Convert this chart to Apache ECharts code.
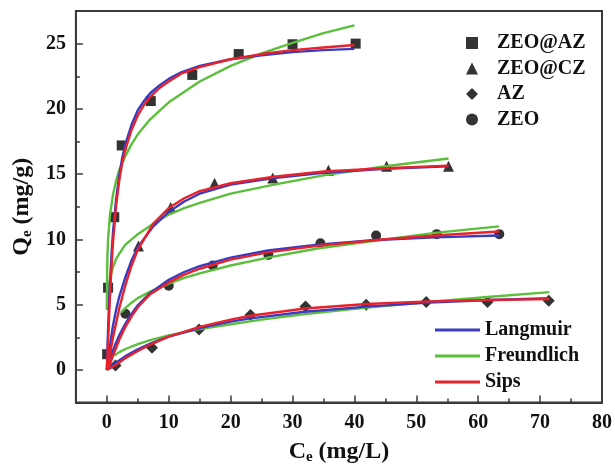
<!DOCTYPE html>
<html><head><meta charset="utf-8">
<script src="https://cdn.jsdelivr.net/npm/echarts@6/dist/echarts.min.js"></script>
<style>html,body{margin:0;padding:0;background:#fff}#c{width:615px;height:473px}</style>
</head><body><div id="c"></div>
<script>
// ---- tick labels ----
const xMajor = [0, 10, 20, 30, 40, 50, 60, 70, 80];
const xMinor = [5, 15, 25, 35, 45, 55, 65, 75];
const yMajor = [0, 5, 10, 15, 20, 25];
const yMinor = [2.5, 7.5, 12.5, 17.5, 22.5];

// ---- experimental points [Ce, Qe] ----
const zeoAzPts = [[0.2, 6.3], [0.05, 1.2], [1.2, 11.7], [2.4, 17.2], [7.1, 20.6], [13.8, 22.6], [21.3, 24.2], [30.0, 24.95], [40.2, 25.0]];
const zeoCzPts = [[5.1, 9.5], [10.3, 12.45], [17.4, 14.3], [26.8, 14.7], [35.8, 15.3], [45.2, 15.6], [55.2, 15.6]];
const azPts = [[1.4, 0.33], [7.3, 1.7], [14.9, 3.1], [23.2, 4.2], [32.1, 4.85], [41.9, 5.0], [51.6, 5.2], [61.5, 5.2], [71.4, 5.3]];
const zeoPts = [[3.0, 4.3], [10.0, 6.45], [17.1, 8.0], [26.1, 8.8], [34.5, 9.7], [43.5, 10.3], [53.3, 10.4], [63.4, 10.4]];

// ---- fitted curves ----
const zeoAzLangmuir = [[0, 0], [0.1, 1.7], [0.25, 3.8], [0.5, 6.7], [0.75, 8.8], [1, 10.6], [1.5, 13.1], [2, 14.9], [2.5, 16.3], [3, 17.3], [4, 18.8], [5, 19.9], [6, 20.6], [7, 21.2], [8.5, 21.8], [10, 22.3], [12, 22.8], [15, 23.3], [20, 23.8], [25, 24.1], [30, 24.35], [35, 24.5], [40, 24.6]];
const zeoAzFreundlich = [[0.003, 4.6], [0.01, 5.8], [0.05, 7.8], [0.1, 8.8], [0.2, 10.0], [0.5, 11.85], [1, 13.45], [1.5, 14.5], [2, 15.3], [3, 16.4], [4, 17.3], [5, 18.05], [7, 19.2], [10, 20.5], [15, 22.1], [20, 23.3], [25, 24.25], [30, 25.05], [35, 25.8], [40, 26.4]];
const zeoAzSips = [[0, 0], [0.1, 1.0], [0.25, 2.8], [0.5, 5.6], [0.75, 7.9], [1, 9.8], [1.5, 12.6], [2, 14.5], [2.5, 15.9], [3, 16.9], [4, 18.4], [5, 19.5], [6, 20.3], [7, 20.9], [8.5, 21.6], [10, 22.1], [12, 22.7], [15, 23.2], [20, 23.8], [25, 24.2], [30, 24.5], [35, 24.7], [40, 24.9]];

const zeoCzLangmuir = [[0, 0], [0.5, 1.9], [1, 3.4], [1.5, 4.6], [2, 5.6], [3, 7.1], [4, 8.4], [5, 9.4], [7.5, 11.0], [10, 12.1], [12.5, 12.9], [15, 13.5], [20, 14.2], [27, 14.7], [35, 15.1], [45, 15.4], [55.2, 15.6]];
const zeoCzFreundlich = [[0.05, 4.6], [0.2, 5.9], [0.5, 7.0], [1, 7.9], [1.5, 8.5], [2, 8.9], [3, 9.6], [4, 10.0], [5, 10.4], [7.5, 11.2], [10, 11.9], [12.5, 12.4], [15, 12.8], [20, 13.5], [27, 14.2], [35, 14.9], [45, 15.6], [55.2, 16.2]];
const zeoCzSips = [[0, 0], [0.5, 1.2], [1, 2.5], [1.5, 3.6], [2, 4.7], [3, 6.5], [4, 8.0], [5, 9.2], [7.5, 11.2], [10, 12.4], [12.5, 13.15], [15, 13.7], [20, 14.3], [27, 14.8], [35, 15.2], [45, 15.45], [55.2, 15.65]];

const zeoLangmuir = [[0, 0], [0.5, 0.8], [1, 1.5], [1.5, 2.1], [2, 2.65], [3, 3.55], [4, 4.3], [5, 4.95], [7, 5.9], [10, 6.9], [12.5, 7.5], [15, 7.95], [20, 8.6], [26, 9.15], [34, 9.6], [43.5, 9.95], [53, 10.15], [63.35, 10.3]];
const zeoFreundlich = [[2.3, 4.4], [3, 4.75], [4, 5.15], [5, 5.5], [7, 6.0], [10, 6.6], [12.5, 7.05], [15, 7.4], [20, 8.0], [26, 8.6], [34, 9.3], [43.5, 9.9], [53, 10.5], [63.35, 11.0]];
const zeoSips = [[0, 0], [0.5, 0.45], [1, 1.1], [1.5, 1.7], [2, 2.3], [3, 3.3], [4, 4.1], [5, 4.8], [7, 5.8], [10, 6.7], [12.5, 7.3], [15, 7.75], [20, 8.45], [26, 9.0], [34, 9.5], [43.5, 9.95], [53, 10.3], [63.35, 10.6]];

const azLangmuir = [[0, 0], [1.4, 0.53], [3, 1.05], [5, 1.57], [7.3, 2.07], [10, 2.55], [15, 3.2], [20, 3.7], [23.2, 3.95], [32, 4.45], [42, 4.85], [52, 5.15], [62, 5.35], [71.5, 5.5]];
const azFreundlich = [[1.2, 1.1], [2, 1.36], [3, 1.6], [5, 1.98], [7, 2.28], [10, 2.64], [15, 3.12], [20, 3.5], [25, 3.85], [32, 4.27], [42, 4.77], [52, 5.2], [62, 5.6], [71.5, 5.96]];
const azSips = [[0, 0], [1.4, 0.35], [3, 0.9], [5, 1.45], [7.3, 2.0], [10, 2.55], [15, 3.3], [20, 3.85], [23.2, 4.15], [32, 4.7], [42, 5.05], [52, 5.25], [62, 5.35], [71.5, 5.42]];

const FONT = 'Liberation Serif';
const AX = '#3a3a3a';
const BLUE = '#3b3bc0', GREEN = '#5cbf3c', RED = '#e8212b';

function fit(name, color, data, z) {
  return {
    type: 'line', name: name, data: data, color: color,
    showSymbol: false, symbol: 'none', smooth: false,
    lineStyle: { color: color, width: 2.4, join: 'round' }, z: z, silent: true
  };
}
function pts(name, symbol, size, data) {
  return { type: 'scatter', name: name, data: data, symbol: symbol, symbolSize: size,
    itemStyle: { color: '#000' }, z: 1, silent: true };
}

const chart = echarts.init(document.getElementById('c'), null, { renderer: 'canvas' });
const txt = { fontFamily: FONT, fontWeight: 'bold', fontSize: 20, color: '#111' };

chart.setOption({
  animation: false,
  backgroundColor: '#fff',
  grid: { left: 75, right: 11, top: 11, bottom: 70.5, show: true, borderColor: AX, borderWidth: 2 },
  xAxis: [
    {
      type: 'value', min: -5, max: 80, position: 'bottom',
      axisLine: { show: true, onZero: false, lineStyle: { color: AX, width: 2 } },
      axisTick: { show: true, inside: true, length: 7, customValues: xMajor, lineStyle: { color: AX, width: 1.5 } },
      axisLabel: Object.assign({ customValues: xMajor, margin: 10 }, txt),
      splitLine: { show: false },
      name: '{b|C}{s|e}{b| (mg/L)}', nameLocation: 'middle', nameGap: 37,
      nameTextStyle: { fontFamily: FONT, fontWeight: 'bold', fontSize: 24, color: '#111',
        rich: { b: { fontFamily: FONT, fontWeight: 'bold', fontSize: 24, color: '#111' },
                s: { fontFamily: FONT, fontWeight: 'bold', fontSize: 15, color: '#111', lineHeight: 15, padding: [12, 0, 0, 0] } } }
    },
    {
      type: 'value', min: -5, max: 80, position: 'bottom',
      axisLine: { show: false, onZero: false },
      axisTick: { show: true, inside: true, length: 4, customValues: xMinor, lineStyle: { color: AX, width: 1.5 } },
      axisLabel: { show: false }, splitLine: { show: false }
    }
  ],
  yAxis: [
    {
      type: 'value', min: -2.5, max: 27.5, position: 'left',
      axisLine: { show: true, onZero: false, lineStyle: { color: AX, width: 2 } },
      axisTick: { show: true, inside: true, length: 7, customValues: yMajor, lineStyle: { color: AX, width: 1.5 } },
      axisLabel: Object.assign({ customValues: yMajor, margin: 10 }, txt),
      splitLine: { show: false },
      name: '{b|Q}{s|e}{b| (mg/g)}', nameLocation: 'middle', nameGap: 40,
      nameTextStyle: { fontFamily: FONT, fontWeight: 'bold', fontSize: 24, color: '#111',
        rich: { b: { fontFamily: FONT, fontWeight: 'bold', fontSize: 24, color: '#111' },
                s: { fontFamily: FONT, fontWeight: 'bold', fontSize: 15, color: '#111', lineHeight: 15, padding: [12, 0, 0, 0] } } }
    },
    {
      type: 'value', min: -2.5, max: 27.5, position: 'left',
      axisLine: { show: false, onZero: false },
      axisTick: { show: true, inside: true, length: 4, customValues: yMinor, lineStyle: { color: AX, width: 1.5 } },
      axisLabel: { show: false }, splitLine: { show: false }
    }
  ],
  legend: [
    {
      data: ['ZEO@AZ', 'ZEO@CZ', 'AZ', 'ZEO'], orient: 'vertical', left: 461, top: 28,
      itemWidth: 12, itemHeight: 12, itemGap: 5.5, selectedMode: false,
      textStyle: Object.assign({ lineHeight: 20, padding: [0, 0, 0, 14] }, txt)
    },
    {
      data: [{ name: 'Langmuir', icon: 'rect' }, { name: 'Freundlich', icon: 'rect' }, { name: 'Sips', icon: 'rect' }],
      orient: 'vertical', left: 430, top: 315,
      itemWidth: 45, itemHeight: 3, itemGap: 6, selectedMode: false,
      textStyle: Object.assign({ lineHeight: 20 }, txt)
    }
  ],
  series: [
    pts('ZEO@AZ', 'rect', 10, zeoAzPts),
    pts('ZEO@CZ', 'triangle', 11, zeoCzPts),
    pts('AZ', 'diamond', 12, azPts),
    pts('ZEO', 'circle', 10, zeoPts),
    fit('Freundlich', GREEN, zeoAzFreundlich, 2),
    fit('Freundlich', GREEN, zeoCzFreundlich, 2),
    fit('Freundlich', GREEN, zeoFreundlich, 2),
    fit('Freundlich', GREEN, azFreundlich, 2),
    fit('Langmuir', BLUE, zeoAzLangmuir, 3),
    fit('Langmuir', BLUE, zeoCzLangmuir, 3),
    fit('Langmuir', BLUE, zeoLangmuir, 3),
    fit('Langmuir', BLUE, azLangmuir, 3),
    fit('Sips', RED, zeoAzSips, 4),
    fit('Sips', RED, zeoCzSips, 4),
    fit('Sips', RED, zeoSips, 4),
    fit('Sips', RED, azSips, 4)
  ]
});
</script></body></html>
